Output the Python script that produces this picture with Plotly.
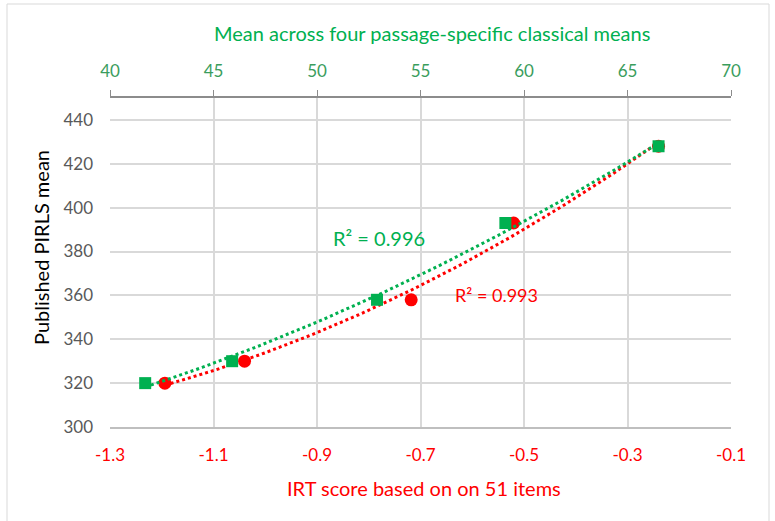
import numpy as np
import plotly.graph_objects as go

# Published PIRLS means (y) against two alternative country-level scores
pirls_mean = [320, 330, 358, 393, 428]
irt_score = [-1.194, -1.04, -0.718, -0.52, -0.24]            # bottom axis (red)
classical_mean = [41.7, 45.9, 52.9, 59.1, 66.5]              # top axis (green)

x_ticks_irt = [-1.3, -1.1, -0.9, -0.7, -0.5, -0.3, -0.1]
x_ticks_classical = [40, 45, 50, 55, 60, 65, 70]
y_ticks = [300, 320, 340, 360, 380, 400, 420, 440]

r2_classical = "R² = 0.996"
r2_irt = "R² = 0.993"

RED = "#FF0000"
GREEN = "#00B050"
GREEN_TICK = "#3A9D5D"
GRAY_TEXT = "#595959"
FONT = "Lato"

# plot-area geometry in pixels (used to place titles outside the axes)
L, R, T, B = 110, 44, 98, 94
W, H = 775, 521
PW, PH = W - L - R, H - T - B


def quad_trend(x, y):
    coef = np.polyfit(x, y, 2)
    xs = np.linspace(min(x), max(x), 100)
    return xs, np.polyval(coef, xs)


def px_to_paper_x(px):
    return (px - L) / PW


def px_to_paper_y(py):
    return (H - B - py) / PH


fig = go.Figure()

fig.add_trace(go.Scatter(x=irt_score, y=pirls_mean, mode="markers", xaxis="x", yaxis="y",
                         marker=dict(symbol="circle", size=13, color=RED)))
fig.add_trace(go.Scatter(x=classical_mean, y=pirls_mean, mode="markers", xaxis="x2", yaxis="y",
                         marker=dict(symbol="square", size=12, color=GREEN)))

gx, gy = quad_trend(classical_mean, pirls_mean)
fig.add_trace(go.Scatter(x=gx, y=gy, mode="lines", xaxis="x2", yaxis="y",
                         line=dict(color=GREEN, width=3, dash="dot"), hoverinfo="skip"))
tx, ty = quad_trend(irt_score, pirls_mean)
fig.add_trace(go.Scatter(x=tx, y=ty, mode="lines", xaxis="x", yaxis="y",
                         line=dict(color=RED, width=3, dash="dot"), hoverinfo="skip"))


def title_note(text, px, py, color, angle=0):
    return dict(text=text, xref="paper", yref="paper", x=px_to_paper_x(px), y=px_to_paper_y(py),
                xanchor="center", yanchor="middle", textangle=angle, showarrow=False,
                font=dict(color=color, size=20, family=FONT))


grid = "#D9D9D9"
fig.update_layout(
    width=W, height=H,
    margin=dict(l=L, r=R, t=T, b=B),
    paper_bgcolor="white", plot_bgcolor="white",
    showlegend=False,
    font=dict(family=FONT, size=17, color=GRAY_TEXT),
    xaxis=dict(range=[-1.3, -0.1], tickvals=x_ticks_irt, ticktext=[f"{v:g}" for v in x_ticks_irt],
               showgrid=True, gridcolor=grid, gridwidth=1.5,
               showline=True, linecolor="#BFBFBF", linewidth=1.5,
               ticks="", tickfont=dict(color=RED, size=17), ticklabelstandoff=12, zeroline=False),
    xaxis2=dict(range=[40, 70], tickvals=x_ticks_classical, overlaying="x", side="top",
                anchor="y", showgrid=False,
                showline=True, linecolor="#8C8C8C", linewidth=1.5,
                ticks="outside", ticklen=6, tickcolor="#8C8C8C", tickwidth=1,
                tickfont=dict(color=GREEN_TICK, size=17), ticklabelstandoff=6, zeroline=False),
    yaxis=dict(range=[300, 450], tickvals=y_ticks, showgrid=True, gridcolor=grid, gridwidth=1.5,
               zeroline=False, ticks="", tickfont=dict(color=GRAY_TEXT, size=17),
               ticklabelstandoff=16),
    annotations=[
        title_note("Mean across four passage-specific classical means", 432, 33, GREEN),
        title_note("IRT score based on on 51 items", 424, 488, RED),
        title_note("Published PIRLS mean", 41, 248, "black", angle=-90),
        dict(text=r2_classical, xref="x2", yref="y", x=53.0, y=386, showarrow=False,
             font=dict(color=GREEN, size=20, family=FONT)),
        dict(text=r2_irt, xref="x", yref="y", x=-0.554, y=360, showarrow=False,
             font=dict(color=RED, size=18, family=FONT)),
    ],
    shapes=[
        dict(type="rect", xref="paper", yref="paper",
             x0=px_to_paper_x(7), x1=px_to_paper_x(769),
             y0=px_to_paper_y(560), y1=px_to_paper_y(4),
             line=dict(color="#D9D9D9", width=1), layer="below"),
    ],
)

fig.write_html("out.html")
